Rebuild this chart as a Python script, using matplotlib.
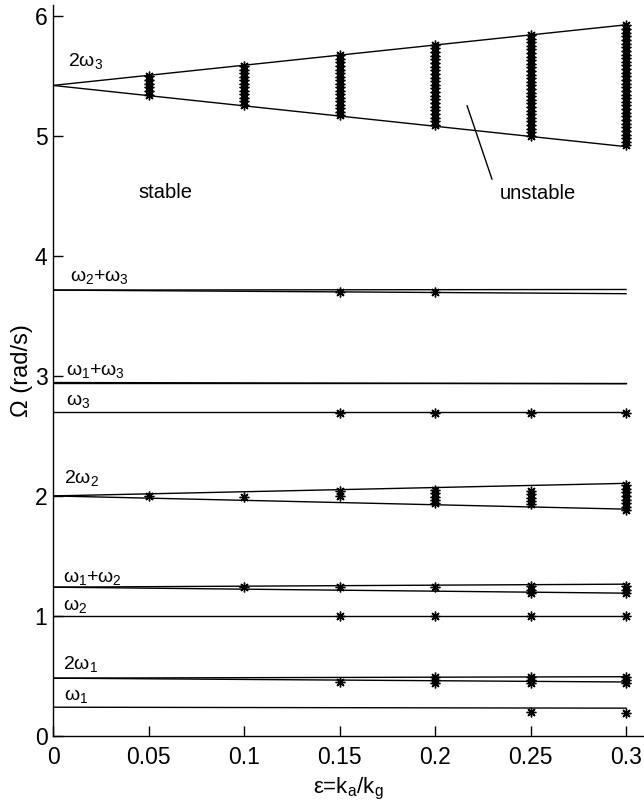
import numpy as np
import matplotlib
matplotlib.use('Agg')
import matplotlib.pyplot as plt

plt.rcParams['font.family'] = ['Liberation Sans', 'DejaVu Sans']
plt.rcParams['mathtext.fontset'] = 'custom'
plt.rcParams['mathtext.rm'] = 'Liberation Sans'
plt.rcParams['mathtext.it'] = 'Liberation Sans'
plt.rcParams['mathtext.bf'] = 'Liberation Sans:bold'

# resonance boundaries: value at eps=0, upper and lower value at eps=0.3
eps_ends = [0.0, 0.3]
res_names = ['2w3', 'w2+w3', 'w1+w3', 'w3', '2w2', 'w1+w2', 'w2', '2w1', 'w1']
res_start = [5.42, 3.715, 2.945, 2.70, 2.00, 1.24, 1.00, 0.482, 0.240]
res_upper = [5.925, 3.72, 2.945, 2.70, 2.105, 1.265, 1.00, 0.494, 0.232]
res_lower = [4.91, 3.685, 2.935, 2.70, 1.89, 1.19, 1.00, 0.45, 0.232]

# unstable points found by simulation (eps, Omega range)
omega_step = 0.03
u_2w3_eps = [0.05, 0.1, 0.15, 0.2, 0.25, 0.3]
u_2w3_lo = [5.34, 5.26, 5.17, 5.09, 5.00, 4.92]
u_2w3_hi = [5.50, 5.58, 5.67, 5.76, 5.84, 5.92]

u_w2w3_eps = [0.15, 0.2]
u_w2w3_lo = [3.70, 3.70]
u_w2w3_hi = [3.70, 3.70]

u_w3_eps = [0.15, 0.2, 0.25, 0.3]
u_w3_lo = [2.69, 2.69, 2.69, 2.69]
u_w3_hi = [2.69, 2.69, 2.69, 2.69]

u_2w2_eps = [0.05, 0.1, 0.15, 0.2, 0.25, 0.3]
u_2w2_lo = [2.00, 1.99, 2.00, 1.94, 1.93, 1.88]
u_2w2_hi = [2.00, 1.99, 2.04, 2.05, 2.04, 2.09]

u_w1w2_eps = [0.1, 0.15, 0.2, 0.25, 0.3]
u_w1w2_lo = [1.24, 1.24, 1.24, 1.19, 1.19]
u_w1w2_hi = [1.24, 1.24, 1.25, 1.25, 1.25]

u_w2_eps = [0.15, 0.2, 0.25, 0.3]
u_w2_lo = [1.0, 1.0, 1.0, 1.0]
u_w2_hi = [1.0, 1.0, 1.0, 1.0]

u_2w1_eps = [0.15, 0.2, 0.25, 0.3]
u_2w1_lo = [0.45, 0.44, 0.44, 0.44]
u_2w1_hi = [0.45, 0.49, 0.49, 0.49]

u_w1_eps = [0.25, 0.3]
u_w1_lo = [0.20, 0.19]
u_w1_hi = [0.20, 0.19]

unstable = [
    (u_2w3_eps, u_2w3_lo, u_2w3_hi),
    (u_w2w3_eps, u_w2w3_lo, u_w2w3_hi),
    (u_w3_eps, u_w3_lo, u_w3_hi),
    (u_2w2_eps, u_2w2_lo, u_2w2_hi),
    (u_w1w2_eps, u_w1w2_lo, u_w1w2_hi),
    (u_w2_eps, u_w2_lo, u_w2_hi),
    (u_2w1_eps, u_2w1_lo, u_2w1_hi),
    (u_w1_eps, u_w1_lo, u_w1_hi),
]

# labels and where they sit
label_text = [r'$2\omega_3$', r'$\omega_2$+$\omega_3$', r'$\omega_1$+$\omega_3$', r'$\omega_3$',
              r'$2\omega_2$', r'$\omega_1$+$\omega_2$', r'$\omega_2$', r'$2\omega_1$', r'$\omega_1$']
label_x = [0.008, 0.009, 0.007, 0.007, 0.006, 0.005, 0.005, 0.005, 0.006]
label_y = [5.62, 3.82, 3.04, 2.79, 2.15, 1.32, 1.08, 0.60, 0.33]

fig = plt.figure(figsize=(6.44, 8.08), dpi=100)
ax = fig.add_axes([0.0823, 0.0891, 0.9177, 0.9047])

for s, u, l in zip(res_start, res_upper, res_lower):
    ax.plot(eps_ends, [s, u], color='black', lw=1.0)
    if l != u:
        ax.plot(eps_ends, [s, l], color='black', lw=1.0)

for eps_list, lo_list, hi_list in unstable:
    for e, lo, hi in zip(eps_list, lo_list, hi_list):
        n = int(round((hi - lo) / omega_step)) + 1
        om = np.linspace(lo, hi, n)
        ax.plot(np.full(n, e), om, linestyle='none', marker=(8, 2, 0),
                markersize=7, markeredgewidth=1.0, color='black')

for t, x, y in zip(label_text, label_x, label_y):
    ax.text(x, y, t, fontsize=14, ha='left', va='center')

ax.text(0.0445, 4.53, 'stable', fontsize=14.5, ha='left', va='center')
ax.text(0.234, 4.52, 'unstable', fontsize=14.5, ha='left', va='center')
ax.plot([0.2168, 0.2298], [5.25, 4.64], color='black', lw=1.0)

ax.set_xlim(0, 0.3094)
ax.set_ylim(0, 6.09)
ax.set_xticks([0, 0.05, 0.1, 0.15, 0.2, 0.25, 0.3])
ax.set_xticklabels(['0', '0.05', '0.1', '0.15', '0.2', '0.25', '0.3'])
ax.set_yticks([0, 1, 2, 3, 4, 5, 6])
ax.tick_params(direction='in', length=7, width=1.0, labelsize=16.5)
ax.tick_params(axis='x', pad=7)
ax.tick_params(axis='y', pad=4)
ax.spines['top'].set_visible(False)
ax.spines['right'].set_visible(False)
for sp in ['left', 'bottom']:
    ax.spines[sp].set_linewidth(1.0)

ax.set_xlabel(r'ε=k$_a$/k$_g$', fontsize=16, labelpad=5)
ax.set_ylabel('Ω (rad/s)', fontsize=17, labelpad=1)

fig.savefig('out.png', dpi=100)
